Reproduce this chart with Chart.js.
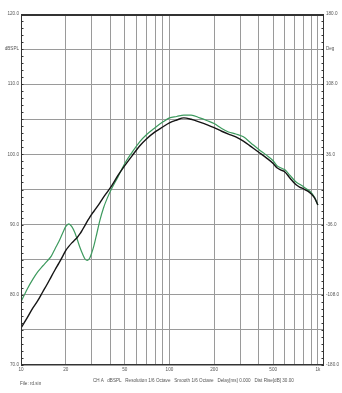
<!DOCTYPE html>
<html>
<head>
<meta charset="utf-8">
<script src="https://cdn.jsdelivr.net/npm/chart.js"></script>
<style>
  html, body { margin: 0; padding: 0; background: #fff; }
  #wrap { position: relative; width: 342px; height: 393px; }
  canvas { display: block; }
  .foot { position: absolute; font-family: "Liberation Sans", Arial, sans-serif; font-size: 4.6px; color: #555; white-space: pre; }
</style>
</head>
<body>
<div id="wrap">
  <canvas id="myChart" width="342" height="393"></canvas>
  <div class="foot" style="left:20px; top:381px;">File: rd.sin</div>
  <div class="foot" style="left:93px; top:378px;">CH A   dBSPL   Resolution 1/6 Octave   Smooth 1/6 Octave   Delay[ms] 0.000   Dist Rise[dB] 30.00</div>
</div>
<script>
// frequency points (Hz)
const freqs = [10, 11, 12, 13, 14, 15, 16, 17, 18, 19, 20, 21, 22, 23, 24, 25, 26, 27, 28, 29, 30, 31, 32, 34, 36, 38, 41, 45, 50, 56, 63, 70, 80, 90, 100, 112, 125, 140, 160, 180, 200, 225, 250, 280, 315, 355, 400, 450, 500, 530, 560, 600, 650, 710, 760, 800, 850, 900, 950, 1000];

// black trace, dBSPL
const blackDb = [75.3, 76.7, 78.1, 79.2, 80.4, 81.5, 82.6, 83.6, 84.5, 85.4, 86.3, 86.9, 87.4, 87.8, 88.2, 88.7, 89.3, 89.9, 90.5, 91.0, 91.5, 91.9, 92.3, 93.1, 93.9, 94.6, 95.6, 97.0, 98.4, 99.8, 101.2, 102.2, 103.2, 103.9, 104.5, 104.9, 105.2, 105.0, 104.6, 104.2, 103.8, 103.3, 102.9, 102.5, 101.9, 101.1, 100.3, 99.5, 98.7, 98.1, 97.8, 97.5, 96.6, 95.7, 95.3, 95.1, 94.8, 94.4, 93.8, 92.8];

// green trace, dBSPL
const greenDb = [79.0, 80.8, 82.2, 83.3, 84.1, 84.8, 85.5, 86.6, 87.6, 88.7, 89.7, 90.1, 89.7, 88.9, 87.8, 86.7, 85.8, 85.1, 84.9, 85.2, 86.0, 87.0, 88.2, 90.6, 92.4, 93.7, 95.2, 96.8, 98.7, 100.3, 101.8, 102.8, 103.8, 104.6, 105.2, 105.4, 105.6, 105.6, 105.2, 104.8, 104.4, 103.7, 103.2, 102.9, 102.5, 101.6, 100.7, 99.9, 99.1, 98.4, 98.1, 97.8, 97.0, 96.1, 95.7, 95.4, 95.0, 94.6, 93.9, 92.8];

// axis ticks
const gridFreqs = [10, 20, 30, 40, 50, 60, 70, 80, 90, 100, 200, 300, 400, 500, 600, 700, 800, 900, 1000];
const freqLabels = { 10: '10', 20: '20', 50: '50', 100: '100', 200: '200', 500: '500', 1000: '1k' };
const dbLabels = { 120: '120.0', 115: 'dBSPL', 110: '110.0', 100: '100.0', 90: '90.0', 80: '80.0', 70: '70.0' };
const degLabels = { 180: '180.0', 144: 'Deg', 108: '108.0', 36: '36.0', '-36': '-36.0', '-108': '-108.0', '-180': '-180.0' };

const tickFont = { family: '"Liberation Sans", Arial, sans-serif', size: 4.6 };
const gridGray = '#9a9a9a';
const axisDark = '#333';

// frame + small inner ticks every 1 dB
const framePlugin = {
  id: 'frame',
  afterDraw(chart) {
    const ctx = chart.ctx, a = chart.chartArea, y = chart.scales.y;
    ctx.save();
    ctx.strokeStyle = axisDark;
    ctx.lineWidth = 1;
    for (let v = 70; v <= 120; v++) {
      const py = Math.round(y.getPixelForValue(v)) + 0.5;
      ctx.beginPath();
      ctx.moveTo(a.left, py); ctx.lineTo(a.left + 2.5, py);
      ctx.moveTo(a.right, py); ctx.lineTo(a.right - 2.5, py);
      ctx.stroke();
    }
    ctx.strokeRect(a.left + 0.5, a.top + 0.5, a.right - a.left - 1, a.bottom - a.top - 1);
    ctx.lineWidth = 2;
    ctx.beginPath();
    ctx.moveTo(a.left, a.top + 1); ctx.lineTo(a.right, a.top + 1);
    ctx.stroke();
    ctx.restore();
  }
};

const ctx = document.getElementById('myChart');

new Chart(ctx, {
  type: 'line',
  data: {
    datasets: [
      {
        label: 'black',
        data: freqs.map((f, i) => ({ x: f, y: blackDb[i] })),
        borderColor: '#151515',
        borderWidth: 1.4,
        pointRadius: 0,
        cubicInterpolationMode: 'monotone',
        yAxisID: 'y'
      },
      {
        label: 'green',
        data: freqs.map((f, i) => ({ x: f, y: greenDb[i] })),
        borderColor: '#3d9a5e',
        borderWidth: 1.2,
        pointRadius: 0,
        cubicInterpolationMode: 'monotone',
        yAxisID: 'y'
      }
    ]
  },
  options: {
    responsive: false,
    devicePixelRatio: 1,
    animation: false,
    layout: { padding: { top: 14, left: 0, right: 0, bottom: 0 } },
    plugins: { legend: { display: false }, tooltip: { enabled: false } },
    scales: {
      x: {
        type: 'logarithmic',
        min: 10,
        max: 1100,
        afterBuildTicks: (s) => { s.ticks = gridFreqs.map(v => ({ value: v })); },
        afterFit: (s) => { s.height = 28; },
        grid: { color: gridGray, lineWidth: 1, drawTicks: false },
        border: { display: false },
        ticks: {
          autoSkip: false, maxRotation: 0, padding: 2,
          color: '#555', font: tickFont,
          callback: (v) => freqLabels[v] || ''
        }
      },
      y: {
        position: 'left',
        min: 70,
        max: 120,
        afterFit: (s) => { s.width = 21; },
        grid: { color: gridGray, lineWidth: 1, drawTicks: false },
        border: { display: false },
        ticks: {
          stepSize: 5, autoSkip: false, padding: 2,
          color: '#555', font: tickFont,
          callback: (v) => dbLabels[v] || ''
        }
      },
      y2: {
        position: 'right',
        min: -180,
        max: 180,
        afterFit: (s) => { s.width = 18; },
        grid: { display: false, drawTicks: false },
        border: { display: false },
        ticks: {
          stepSize: 36, autoSkip: false, padding: 2,
          color: '#555', font: tickFont,
          callback: (v) => degLabels[v] || ''
        }
      }
    }
  },
  plugins: [framePlugin]
});
</script>
</body>
</html>
